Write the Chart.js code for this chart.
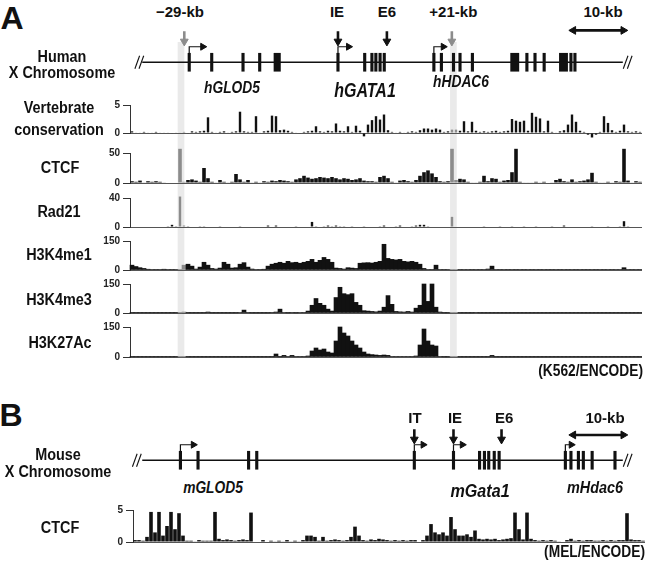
<!DOCTYPE html>
<html><head><meta charset="utf-8">
<script src="https://cdn.jsdelivr.net/npm/chart.js@4.4.1/dist/chart.umd.min.js"></script>
<style>
html,body{margin:0;padding:0;background:#fff}
#fig{position:relative;width:650px;height:571px;overflow:hidden;background:#fff;
 font-family:"Liberation Sans",Arial,sans-serif;font-weight:bold;color:#111}
#fig canvas{position:absolute}
.lb{position:absolute;white-space:nowrap;line-height:1;transform:translate(-50%,-50%) scaleX(var(--sx,1))}
.rt{transform-origin:right center;transform:translate(-100%,-50%) scaleX(var(--sx,1))}
.it{font-style:italic}
</style></head><body><div id="fig"></div>
<script>
// ---------------- DATA ----------------
// genome coordinates in kb, measured from the left edge of the track area
const highlightKb = [8.5, 53.9];
const humanExons = [[8.96,9.38],[12.79,13.21],[18.12,18.54],[20.96,21.38],[23.6,24.7],
  [34.29,34.71],[38.84,39.26],[40.07,40.49],[40.74,41.16],[41.46,41.88],[42.17,42.59],
  [50.62,51.04],[51.9,52.32],[53.96,54.38],[55.07,55.49],[57.18,57.6],
  [63.9,65.3],[66.46,66.88],[67.84,68.26],[69.4,69.82],[72.2,73.6],[73.96,74.38],[74.64,75.06]];
const humanTSS = [[9.17,2.3],[34.5,1.8],[50.83,1.6]];        // [position, arrow length]
const humanSites = [8.33, 34.5, 42.83, 53.89];
const humanSiteLabels = ["\u221229-kb", "IE", "E6", "+21-kb"];
const humanSiteGray = [true, false, false, true];
const humanGenes = [["hGLOD5", 17.0], ["hGATA1", 39.2], ["hHDAC6", 55.2]];
const humanChrom = [1.17, 83.0];

const mouseExons = [[7.46,7.88],[10.46,10.88],[19.07,19.49],[20.46,20.88],
  [47.29,47.71],[53.96,54.38],[58.4,58.82],[59.23,59.65],[59.96,60.38],[60.9,61.32],[61.73,62.15],
  [73.01,73.43],[73.96,74.38],[75.23,75.65],[76.07,76.49],[77.57,77.99],[81.46,81.88]];
const mouseTSS = [[7.67,2.2],[47.5,1.5],[54.17,1.5],[73.22,1.0]];
const mouseSites = [47.5, 54.17, 62.35];
const mouseSiteLabels = ["IT", "IE", "E6"];
const mouseGenes = [["mGLOD5", 13.8], ["mGata1", 58.3], ["mHdac6", 77.5]];
const mouseChrom = [1.17, 83.0];
const scaleBarKb = [73.83, 83.83];   // 10-kb

// signal tracks, 4-px bins (128 per track)
const conservation = [0.3,0.1,0.1,0.2,0.1,0.1,0.2,0.1,0.1,0.1,
-0.1,0.1,0.1,0.2,-0.1,0.3,0.2,0.3,0.4,2.8,
0.2,0.1,0.2,0.3,0.1,0.2,0.3,3.8,0.3,0.2,
0.2,3.0,0.1,0.3,0.4,3.1,3.0,0.5,0.6,0.4,
0.2,0.1,-0.1,0.2,0.3,0.4,1.2,0.3,0.2,0.4,
0.3,1.7,0.4,0.3,1.2,0.2,1.3,0.4,-0.6,1.5,
2.3,3.0,2.4,3.3,0.5,0.2,0.1,0.2,0.1,0.2,
0.3,0.2,0.5,0.8,0.8,0.6,0.8,0.6,0.2,0.3,
0.6,0.6,0.4,2.1,0.3,2.0,0.4,0.2,0.3,0.2,
0.3,0.4,0.2,0.3,0.4,2.5,2.2,2.0,2.2,0.4,
3.6,2.9,2.6,0.3,2.2,0.2,0.1,0.3,0.5,1.5,
3.3,2.0,0.4,0.2,-0.3,-0.8,-0.3,0.2,3.0,1.8,
0.5,0.2,0.4,1.5,0.3,0.2,0.3,0.2];
const ctcfK562 = [3,2,4,1,3,2,3,2,1,0,
0,0,57,2,5,6,4,2,25,8,
2,1,5,2,1,2,15,6,2,5,
1,2,1,3,2,4,3,5,4,3,
2,6,8,12,9,7,8,10,9,8,
10,8,6,8,7,5,6,8,4,3,
3,2,10,12,8,2,1,4,5,3,
2,5,12,18,21,16,10,3,2,3,
57,5,7,6,2,1,1,2,12,3,
8,7,2,4,5,18,57,2,1,1,
1,2,1,2,0,1,5,7,3,2,
6,2,3,4,6,17,2,1,1,2,
1,3,2,57,4,1,3,2];
const rad21 = [0,0,0,0,0,0,0,0,0,1,
3,1,42,2,1,0,0,1,1,0,
0,0,1,0,0,0,0,1,0,0,
0,0,0,0,2,0,2,0,0,0,
0,1,0,0,0,7,1,0,1,2,
1,2,1,1,0,1,0,0,1,0,
0,0,1,2,0,0,1,2,0,0,
1,2,3,3,1,0,0,0,0,0,
14,0,0,0,0,0,0,0,1,0,
0,0,1,0,0,1,0,0,1,0,
0,1,0,0,0,1,0,0,2,0,
0,0,0,0,0,1,0,0,0,1,
0,0,1,8,1,0,0,0];
const h3k4me1 = [25,18,12,8,4,3,2,3,4,3,
2,3,2,25,30,20,5,15,40,25,
8,5,10,40,30,10,12,30,38,15,
5,3,2,4,20,30,35,40,35,45,
38,40,35,40,45,55,40,50,65,55,
40,10,8,5,12,10,8,35,37,38,
36,40,45,133,60,55,52,55,45,42,
45,40,30,8,3,2,25,3,2,3,
2,3,2,3,3,2,3,2,3,5,
20,3,2,3,2,3,2,3,2,3,
2,3,2,3,2,2,3,2,3,2,
3,2,3,2,2,3,2,3,2,3,
2,3,3,12,3,2,3,2];
const h3k4me3 = [1,1,1,1,1,1,1,1,1,1,
1,1,1,5,1,1,1,1,1,5,
1,1,1,1,1,1,1,3,15,2,
1,1,1,1,1,2,5,20,3,1,
2,1,3,2,10,40,75,50,40,20,
10,80,133,100,95,100,55,40,12,10,
8,6,10,30,90,45,8,6,5,8,
5,25,40,150,60,150,30,5,1,1,
1,1,1,1,1,1,2,1,1,1,
1,1,1,1,1,1,1,1,1,1,
1,1,1,1,1,1,1,1,1,1,
1,1,1,1,1,1,1,1,1,1,
1,1,1,1,1,1,1,1];
const h3k27ac = [1,1,1,1,1,1,1,1,1,1,
1,1,1,1,1,1,1,1,1,1,
1,1,1,1,1,1,1,1,1,1,
1,1,1,1,1,1,15,1,8,3,
8,3,2,3,5,30,45,35,40,25,
20,80,150,120,105,80,60,45,25,15,
12,10,8,10,8,3,2,3,2,3,
3,5,60,140,80,60,55,3,1,1,
1,1,1,1,1,1,1,1,1,1,
8,1,1,1,1,1,1,1,1,1,
1,1,1,1,1,1,1,1,1,1,
1,1,1,1,1,1,1,1,1,1,
1,1,1,1,1,1,1,1];
const ctcfMEL = [0.3,0.3,0.2,0.8,4.7,1.5,4.7,1.0,2.5,4.7,
2.0,4.5,1.0,0.2,0.2,0.1,0.3,0.2,0.2,0.2,
4.7,0.5,0.3,0.4,0.3,0.2,0.3,0.4,0.3,4.6,
0,0,0.3,0,0.2,0.1,0.2,0.1,0.3,0.1,
0.2,0.1,0.3,1.0,1.0,0.8,0.2,0.8,0.2,0.3,
0.4,0.3,0.2,0.3,0.8,2.4,1.0,0.3,0.2,0.4,
0.3,0.5,0.4,0.3,0.2,0.3,0.2,0.3,0.2,0.3,
0.3,0,0.3,1.0,2.8,1.5,1.2,1.5,1.0,3.9,
2.0,1.0,1.0,1.2,0.8,1.8,0.5,0.4,0.5,0.4,
0.5,0.3,0.4,0.5,0.6,4.6,2.0,0.4,4.6,0.5,
0.3,0.2,0.3,0.2,0.3,0.2,0.1,0,0.3,0.5,
0.2,0.3,0.2,0.3,0.3,0.2,0.2,0.3,0.2,0.3,
0.2,0.3,0.3,4.5,0.4,0.3,0.3,0.2];

// ---------------- LAYOUT / DRAWING ----------------
const PX_PER_KB = 6, BIN_PX = 4, ORIGIN_A = 130;
const fig = document.getElementById('fig');
Chart.defaults.font.family = '"Liberation Sans",Arial,sans-serif';
Chart.defaults.animation = false;
const INK = '#111', GRAY = '#8c8c8c';

function addCanvas(left, top, w, h) {
  const cv = document.createElement('canvas');
  cv.width = w; cv.height = h;
  cv.style.left = left + 'px'; cv.style.top = top + 'px';
  cv.style.width = w + 'px'; cv.style.height = h + 'px';
  fig.appendChild(cv);
  return cv;
}
function txt(s, x, y, size, cls, sx) {
  const d = document.createElement('div');
  d.className = 'lb ' + (cls || '');
  d.style.left = x + 'px'; d.style.top = y + 'px'; d.style.fontSize = size + 'px';
  d.style.setProperty('--sx', sx || 1);
  d.textContent = s;
  fig.appendChild(d);
}
const kbToPx = kb => ORIGIN_A + kb * PX_PER_KB;
const baseOpts = (xs, ys) => ({
  responsive: false, animation: false, events: [],
  layout: { padding: 0 },
  plugins: { legend: { display: false }, tooltip: { enabled: false } },
  scales: { x: xs, y: ys }
});

// highlight bands (background)
(function () {
  const cv = addCanvas(124, 42, 518, 316);
  new Chart(cv, {
    type: 'bar',
    data: { datasets: [{ data: highlightKb.map(k => ({ x: k, y: 1 })), backgroundColor: '#eaeaea', barThickness: 6, borderWidth: 0 }] },
    options: baseOpts({ type: 'linear', min: -1, max: 85.333, display: false, offset: false },
                      { type: 'linear', min: 0, max: 1, display: false })
  });
})();

function makeGene(top, g) {
  const cv = addCanvas(124, top, 518, 60);
  const ds = [];
  const ln = (pts, extra) => Object.assign({ type: 'line', data: pts, borderColor: INK, borderWidth: 1.2, pointRadius: 0, clip: false, fill: false }, extra || {});
  ds.push(ln([{ x: g.chrom[0], y: 0 }, { x: g.chrom[1], y: 0 }], { borderWidth: 1.6 }));
  g.breaks.forEach(b => [-0.35, 0.35].forEach(o =>
    ds.push(ln([{ x: b + o - 0.4, y: -8 }, { x: b + o + 0.4, y: 8 }], { borderWidth: 1.1 }))));
  ds.push({ type: 'bar', indexAxis: 'y', data: g.exons.map(e => ({ x: [e[0], e[1]], y: 0 })),
            backgroundColor: INK, borderWidth: 0, barThickness: 18, clip: false });
  g.tss.forEach(([t, L]) => ds.push(ln([{ x: t, y: 0 }, { x: t, y: 19 }, { x: t + L, y: 19 }],
    { pointRadius: [0, 0, 4], pointStyle: 'triangle', pointRotation: 90, pointBackgroundColor: INK, pointBorderColor: INK, pointBorderWidth: 1 })));
  g.sites.forEach((s, i) => {
    const c = g.gray && g.gray[i] ? GRAY : INK;
    ds.push(ln([{ x: s, y: 38 }, { x: s, y: 25.5 }],
      { borderColor: c, borderWidth: 2.6, pointRadius: [0, 4.5], pointStyle: 'triangle', pointRotation: 180, pointBackgroundColor: c, pointBorderColor: c, pointBorderWidth: 1 }));
  });
  ds.push(ln([{ x: scaleBarKb[0] + 0.75, y: g.barY }, { x: scaleBarKb[1] - 0.75, y: g.barY }],
    { borderWidth: 2.6, pointRadius: 4.5, pointStyle: 'triangle', pointRotation: [270, 90], pointBackgroundColor: INK, pointBorderColor: INK, pointBorderWidth: 1 }));
  new Chart(cv, { type: 'line', data: { datasets: ds },
    options: baseOpts({ type: 'linear', min: -1, max: 85.333, display: false, offset: false },
                      { type: 'linear', min: -15, max: 45, display: false, offset: false }) });
}

function makeTrack(vals, max, plotLeft, plotTop, plotBottom, barPct) {
  const AXW = 30, PT = 10, PB = 10;
  const cv = addCanvas(plotLeft - AXW, plotTop - PT, AXW + vals.length * BIN_PX, plotBottom - plotTop + PT + PB);
  const colors = vals.map((v, i) => {
    const a = plotLeft + i * BIN_PX, b = a + BIN_PX;
    return (plotLeft === ORIGIN_A && highlightKb.some(k => { const c = kbToPx(k); return b > c - 3 && a < c + 3; })) ? GRAY : INK;
  });
  new Chart(cv, {
    type: 'bar',
    data: { labels: vals.map((_, i) => i),
      datasets: [{ data: vals, backgroundColor: colors, barPercentage: barPct, categoryPercentage: 1, borderWidth: 0, clip: false }] },
    options: {
      responsive: false, animation: false, events: [],
      layout: { padding: { top: PT, bottom: PB, left: 0, right: 0 } },
      plugins: { legend: { display: false }, tooltip: { enabled: false } },
      scales: {
        x: { display: false },
        y: { min: 0, max: max,
          afterFit(s) { s.width = AXW; },
          afterBuildTicks(s) { s.ticks = [{ value: 0 }, { value: max }]; },
          ticks: { font: { size: 10, weight: 'bold' }, color: '#222', padding: 3 },
          grid: { color: c => (c.tick && c.tick.value === 0) ? '#555' : 'rgba(0,0,0,0)', tickColor: '#333', tickLength: 7, lineWidth: 1 },
          border: { display: true, color: '#333', width: 1 } }
      }
    }
  });
}

// Panel A
makeGene(20, { chrom: humanChrom, breaks: [0.67, 83.83], exons: humanExons, tss: humanTSS,
  sites: humanSites, gray: humanSiteGray, barY: 39 });
makeTrack(conservation, 5, 130, 105, 133, 0.6);
makeTrack(ctcfK562, 50, 130, 153, 183, 0.9);
makeTrack(rad21, 40, 130, 198, 227, 0.6);
makeTrack(h3k4me1, 150, 130, 241, 270, 1);
makeTrack(h3k4me3, 150, 130, 284, 313, 1);
makeTrack(h3k27ac, 150, 130, 327, 357, 1);

// Panel B
makeGene(418, { chrom: mouseChrom, breaks: [0.25, 83.83], exons: mouseExons, tss: mouseTSS,
  sites: mouseSites, gray: null, barY: 31 });
makeTrack(ctcfMEL, 5, 133, 510, 542, 0.9);

// ---------------- TEXT ----------------
const LSX = 0.9;   // condensed look of the label face
txt('A', 12, 18, 32);
txt('Human', 62, 57, 16, '', LSX);
txt('X Chromosome', 62, 73, 16, '', LSX);
humanSiteLabels.forEach((s, i) => txt(s, kbToPx(humanSites[i]), 11, 15));
txt('10-kb', kbToPx((scaleBarKb[0] + scaleBarKb[1]) / 2), 11, 15);
txt(humanGenes[0][0], kbToPx(humanGenes[0][1]), 88, 16, 'it', 0.86);
txt(humanGenes[1][0], kbToPx(humanGenes[1][1]), 90, 20, 'it', 0.8);
txt(humanGenes[2][0], kbToPx(humanGenes[2][1]), 82, 16, 'it', 0.86);
txt('Vertebrate', 59, 108, 16, '', LSX);
txt('conservation', 59, 130, 16, '', LSX);
txt('CTCF', 60, 168, 16, '', LSX);
txt('Rad21', 59, 212, 16, '', LSX);
txt('H3K4me1', 59, 255, 16, '', LSX);
txt('H3K4me3', 59, 300, 16, '', LSX);
txt('H3K27Ac', 60, 343, 16, '', LSX);
txt('(K562/ENCODE)', 643, 371, 16, 'rt', 0.86);

txt('B', 11, 415, 32);
txt('Mouse', 58, 455, 16, '', LSX);
txt('X Chromosome', 58, 472, 16, '', LSX);
mouseSiteLabels.forEach((s, i) => txt(s, kbToPx(mouseSites[i]), 417, 15));
txt('10-kb', kbToPx((scaleBarKb[0] + scaleBarKb[1]) / 2) + 2, 417, 15);
txt(mouseGenes[0][0], kbToPx(mouseGenes[0][1]), 488, 16, 'it', 0.86);
txt(mouseGenes[1][0], kbToPx(mouseGenes[1][1]), 490, 19, 'it', 0.85);
txt(mouseGenes[2][0], kbToPx(mouseGenes[2][1]), 488, 16, 'it', 0.9);
txt('CTCF', 60, 528, 16, '', LSX);
txt('(MEL/ENCODE)', 645, 552, 16, 'rt', 0.86);
</script></body></html>
